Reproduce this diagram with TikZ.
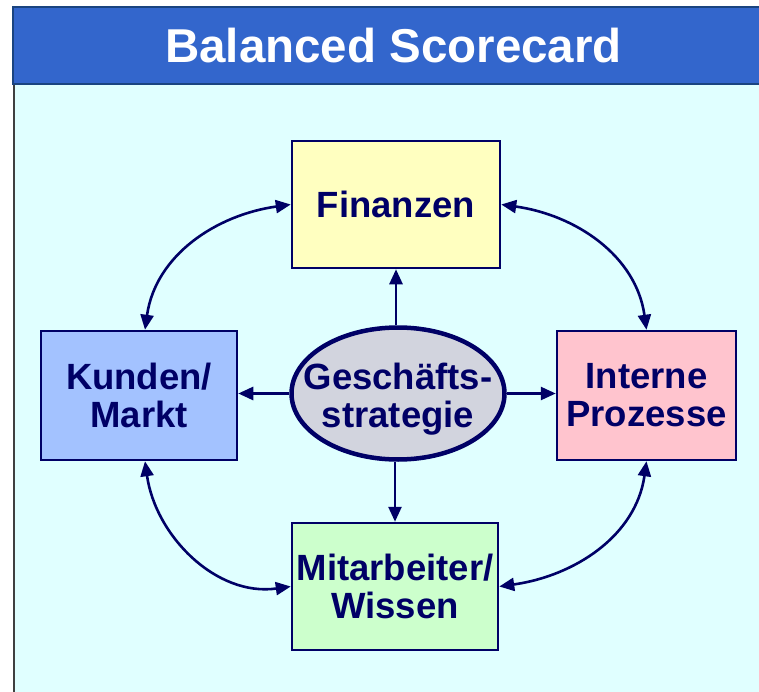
\documentclass[tikz,border=0pt]{standalone}
\usepackage{fontspec}
\setmainfont{Liberation Sans}
\usetikzlibrary{arrows.meta,shapes.geometric}
\definecolor{navy}{HTML}{000066}
\definecolor{barblue}{HTML}{3366CC}
\definecolor{bardark}{HTML}{1A4480}
\definecolor{bgcyan}{HTML}{E0FFFF}
\definecolor{finfill}{HTML}{FFFFC0}
\definecolor{kundfill}{HTML}{A3C2FF}
\definecolor{intfill}{HTML}{FFC4CE}
\definecolor{mitfill}{HTML}{CCFFCC}
\definecolor{ellfill}{HTML}{D2D4DE}
\tikzset{
  boxtext/.style={text=navy, align=center,
    font=\fontsize{36.5}{38}\selectfont\bfseries, inner sep=0pt},
  boxnode/.style={boxtext, draw=navy, line width=2.5pt},
  conn/.style={draw=navy, line width=2.6pt,
    {Triangle[length=15pt,width=13pt]}-{Triangle[length=15pt,width=13pt]}},
  oneway/.style={draw=navy, line width=2.6pt, -{Triangle[length=15pt,width=13pt]}}
}
\begin{document}
\begin{tikzpicture}[x=1pt,y=-1pt]
\useasboundingbox (0,0) rectangle (759,692);
\clip (0,0) rectangle (759,692);
% background panel
\fill[bgcyan] (14,84) rectangle (770,700);
\draw[black!75, line width=1.2pt] (14,84) -- (14,700);
% title bar
\draw[fill=barblue, draw=bardark, line width=2pt] (13,7) rectangle (775,84);
\node[anchor=base west, text=white, inner sep=0pt,
  font=\fontsize{47.5}{50}\selectfont\bfseries] (title) at (165,63) {Balanced Scorecard};
% boxes
\node[boxnode, fill=finfill, minimum width=208pt, minimum height=127pt] (fin) at (396,204.5) {Finanzen};
\node[boxnode, fill=kundfill, minimum width=196pt, minimum height=129pt] (kund) at (139,395.5) {Kunden/\\Markt};
\node[boxnode, fill=intfill, minimum width=179pt, minimum height=129pt] (int) at (646.5,395.5) {Interne\\Prozesse};
\node[boxnode, fill=mitfill, minimum width=206pt, minimum height=127pt] (mit) at (395,586.5) {Mitarbeiter/\\Wissen};
% central ellipse
\node[ellipse, draw=navy, line width=4.5pt, fill=ellfill, inner sep=0pt,
  minimum width=213pt, minimum height=132pt,
  label={[boxtext, text depth=0pt, yshift=-2pt]center:{Gesch\"afts-\\strategie}}] (strat) at (398,393.5) {};
% straight arrows
\draw[oneway] (strat.north -| fin.south) -- (fin.south);
\draw[oneway] (strat.south -| mit.north) -- (mit.north);
\draw[oneway] (strat.west) -- (strat.west -| kund.east);
\draw[oneway] (strat.east) -- (strat.east -| int.west);
% curved two-way arrows
\draw[conn] ([xshift=6pt]kund.north) to[out=82, in=188] (fin.west);
\draw[conn] (fin.east) to[out=-8, in=98] (int.north);
\draw[conn] (int.south) to[out=-98, in=8] (mit.east);
\draw[conn] (mit.west) to[out=188, in=-82] ([xshift=6pt]kund.south);
\end{tikzpicture}
\end{document}
